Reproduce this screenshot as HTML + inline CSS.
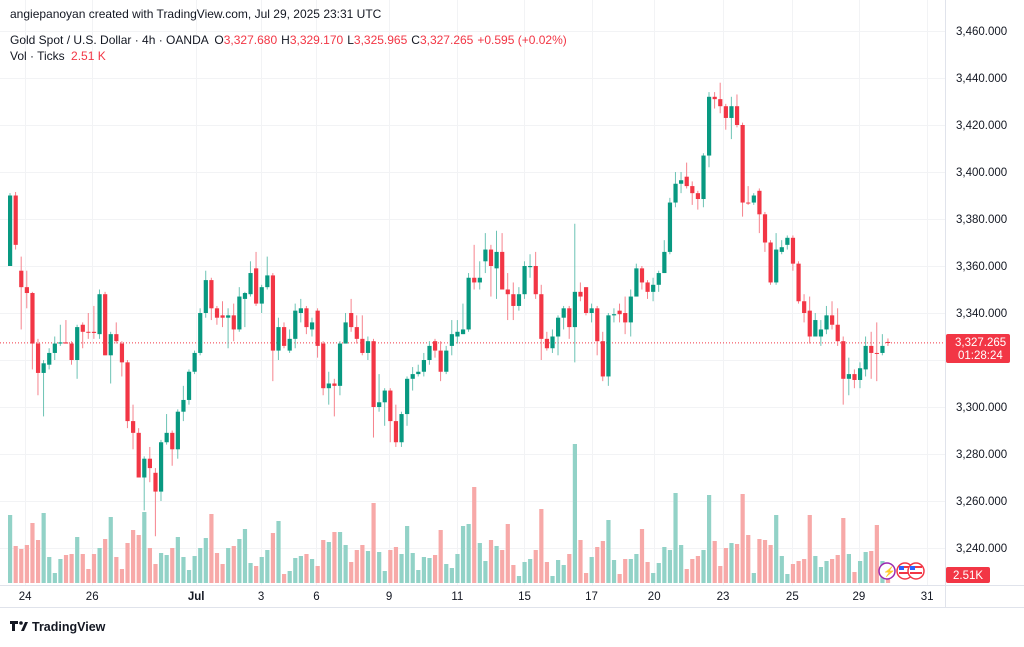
<!DOCTYPE html>
<html><head><meta charset="utf-8">
<style>
html,body{margin:0;padding:0;background:#fff;}
body{width:1024px;height:642px;overflow:hidden;font-family:"Liberation Sans",sans-serif;}
svg text{font-family:"Liberation Sans",sans-serif;}
</style></head>
<body>
<svg id="chart" width="1024" height="642" viewBox="0 0 1024 642" xmlns="http://www.w3.org/2000/svg">
  <rect x="0" y="0" width="1024" height="642" fill="#ffffff"/>
  <g id="grid"></g>
  <g id="vols"></g>
  <g id="candles"></g>
  <line x1="945.5" y1="0" x2="945.5" y2="608" stroke="#e0e3eb" stroke-width="1"/>
  <line x1="0" y1="585.5" x2="1024" y2="585.5" stroke="#e0e3eb" stroke-width="1"/>
  <line x1="0" y1="607.5" x2="1024" y2="607.5" stroke="#e0e3eb" stroke-width="1"/>
  <g id="yaxis"></g>
  <g id="xaxis"></g>
  <text x="10" y="18" font-size="12" fill="#131722">angiepanoyan created with TradingView.com, Jul 29, 2025 23:31 UTC</text>
  <text x="10" y="44" font-size="12" fill="#131722">Gold Spot / U.S. Dollar · 4h · OANDA <tspan dx="3">O</tspan><tspan fill="#f23645">3,327.680</tspan><tspan dx="4">H</tspan><tspan fill="#f23645">3,329.170</tspan><tspan dx="4">L</tspan><tspan fill="#f23645">3,325.965</tspan><tspan dx="4">C</tspan><tspan fill="#f23645">3,327.265</tspan><tspan dx="4" fill="#f23645">+0.595 (+0.02%)</tspan></text>
  <text x="10" y="60" font-size="12" fill="#131722">Vol · Ticks <tspan dx="3" fill="#f23645">2.51 K</tspan></text>
  <g>
    <rect x="946" y="334" width="64" height="29" rx="2" fill="#f23645"/>
    <text x="955" y="346" font-size="11.5" fill="#fff">3,327.265</text>
    <text x="958" y="359" font-size="11.5" fill="#fff">01:28:24</text>
  </g>
  <g>
    <rect x="946" y="567" width="44" height="16" rx="2" fill="#f23645"/>
    <text x="953" y="579" font-size="11.5" fill="#fff">2.51K</text>
  </g>
  <g>
    <circle cx="887" cy="571" r="8" fill="#fff" stroke="#9c27b0" stroke-width="1.5"/>
    <text x="883" y="575" font-size="10" fill="#9c27b0">⚡</text>
    <circle cx="905" cy="571" r="8" fill="#fff" stroke="#f23645" stroke-width="1.5"/>
    <rect x="899" y="566" width="12" height="2" fill="#f23645"/><rect x="899" y="572" width="12" height="2" fill="#f23645"/><rect x="899" y="566" width="5" height="4" fill="#2962ff"/>
    <circle cx="916" cy="571" r="8" fill="#fff" stroke="#f23645" stroke-width="1.5"/>
    <rect x="910" y="566" width="12" height="2" fill="#f23645"/><rect x="910" y="572" width="12" height="2" fill="#f23645"/><rect x="910" y="566" width="5" height="4" fill="#2962ff"/>
  </g>
  <g>
    <path d="M10 621 h8 v3 h-3 v7 h-3 v-7 h-2z" fill="#131722"/>
    <circle cx="21" cy="623" r="1.8" fill="#131722"/>
    <path d="M21 631 l4 -9 h3 l-4 9z" fill="#131722"/>
    <text x="32" y="631" font-size="12.5" font-weight="bold" fill="#131722">TradingView</text>
  </g>
</svg>
<script>
const opens=[3360,3390,3358,3351,3348.5,3327,3314.5,3318,3323,3327,3327.5,3327,3320,3335,3332,3332,3331,3348,3322,3331,3327,3319,3294,3289,3270,3278,3272,3264,3285,3289,3282,3298,3303,3315,3323,3340,3354,3342,3339,3338,3339,3333,3346,3348,3359,3344,3351,3356,3324,3334,3324,3329,3340,3342,3333,3341,3327,3308,3310,3309,3327,3340,3334,3329,3323,3328,3300,3302,3307,3294,3285,3297,3312,3314,3315,3320,3328,3324,3315,3326,3330,3331,3333,3355,3353,3362,3367,3359,3366,3350,3348,3343,3348,3359.5,3360,3348,3329,3325,3330,3338,3342,3334,3349,3351,3340,3342,3328,3313,3339,3341,3340,3336,3347,3359,3353,3349,3352,3357,3366,3387,3395,3398,3394,3391,3388.5,3407,3432,3431,3428,3423,3428,3420,3387,3387,3392,3382,3370,3353,3366,3369,3372,3361,3345,3341,3330,3330,3333,3339,3335,3328,3312,3314,3311.5,3316,3326,3323,3323,3327.68];
const highs=[3391,3391.5,3364,3358,3349,3329,3320,3325,3330,3335,3337,3328,3335,3336,3340,3343,3350,3349,3332,3336,3328,3320,3301,3291,3279,3283,3274,3286,3297,3290,3299,3309,3316,3324,3342,3358,3355,3343,3345,3342,3344,3351,3349,3362,3366,3352,3364,3357,3338,3336,3333,3344,3346,3343,3338,3342,3328,3315,3312,3328,3340,3346,3339,3339,3330,3329,3314,3308,3308,3301,3298,3313,3317,3318,3323,3328,3329,3328,3326,3337,3337,3344,3357,3369,3362,3374,3369,3375,3374,3357,3353,3351,3362,3365,3366,3352,3332,3333,3339,3343,3343,3378,3353,3351,3344,3343,3332,3340,3342,3344,3347,3350,3361,3360,3354,3355,3358,3371,3389,3400,3400,3404,3396,3392,3408,3434,3434,3438,3429,3432,3433,3421,3394,3391,3393,3383,3371,3374,3371,3373,3373,3362,3348,3347,3340,3337,3343,3345,3342,3330,3321,3316,3319,3330,3332,3336,3331,3329.17];
const lows=[3360,3367,3333,3342,3316,3305,3296,3316,3320,3326,3327,3318,3312,3325,3329,3329,3329,3322,3310,3327,3313,3291,3282,3270,3256,3268,3245,3260,3284,3275,3278,3294,3301,3314,3322,3338,3337,3335,3334,3325,3328,3332,3334,3347,3343,3340,3350,3311,3320,3325,3323,3325,3336,3331,3330,3321,3305,3301,3296,3305,3327,3332,3327,3322,3320,3287,3298,3292,3285,3283,3283,3292,3307,3313,3313,3318,3321,3311,3314,3322,3327,3331,3332,3350,3350,3357,3347,3346,3350,3337,3337,3341,3346,3355,3346,3320,3324,3323,3322,3333,3329,3319,3345,3339,3336,3322,3311,3309,3336,3336,3331,3330,3347,3350,3346,3345,3349,3357,3365,3385,3391,3393,3386,3384,3385,3402,3427,3425,3418,3414,3419,3381,3386,3386,3374,3366,3352,3352,3365,3367,3358,3344,3336,3327,3330,3326,3331,3333,3326,3301,3305,3308,3308,3313,3312,3311,3322,3325.965];
const closes=[3390,3369,3351,3348.5,3327,3314.5,3318.6,3323,3327,3327.5,3327,3320,3334,3332,3331.8,3331.5,3348,3322,3331,3328,3319,3294,3289,3270,3278,3274,3264,3285,3289,3282,3298,3303,3315,3323,3340,3354,3342,3338,3338,3339,3333,3347,3348.5,3357,3344,3351,3356,3324,3334,3326,3329,3341,3342,3334,3336,3326,3308,3310,3309,3327,3336,3334,3329,3323,3328,3300,3302,3307,3294,3285,3297,3312,3314,3315,3320,3326,3324,3315,3324,3331,3332,3333,3355,3353,3355,3367,3360,3366,3350,3348,3343,3348,3360,3360,3348,3329,3325,3330,3338,3342,3334,3349,3347,3340,3342,3328,3313,3339,3339.5,3339.5,3336,3347,3359,3353,3349,3352,3357,3366,3387,3395,3396.5,3394,3391,3388.5,3407,3432,3431,3428,3423,3428,3420,3387,3386.6,3390,3382,3370,3353,3367,3368,3372,3361,3345,3340,3330,3337,3333,3339,3335,3328,3312,3314,3311.5,3316.5,3326,3323,3322.8,3326,3327.265];
const volumes=[68,37,34,38,60,43,70,26,10,24,28,29,46,29,14,29,35,44,66,26,14,40,53,48,71,35,19,30,28,35,46,26,13,27,35,45,69,30,19,35,37,44,54,20,17,26,33,50,62,9,12,25,27,29,24,17,43,41,51,51,38,21,33,38,32,80,31,12,33,36,29,57,30,13,26,25,28,53,19,15,29,57,59,96,40,22,43,37,33,59,18,7,21,24,33,74,21,7,23,18,29,139,43,10,26,36,42,63,23,9,24,24,29,54,21,10,20,36,33,90,38,14,24,27,33,88,42,17,35,40,39,89,48,10,44,43,38,68,27,9,19,22,24,68,27,16,22,24,28,65,29,11,22,31,32,58,22,5];
const priceTicks=[3460,3440,3420,3400,3380,3360,3340,3320,3300,3280,3260,3240];
const timeLabels=["24","26","Jul","3","6","9","11","15","17","20","23","25","29","31"];
const timeLabelCandle=[2.7,14.7,33.3,44.9,54.8,67.8,80,92,104,115.2,127.5,139.9,151.8,164];
const lastPrice=3327.265;

const NS="http://www.w3.org/2000/svg";
const yOf=p=>31+(3460-p)*2.35;
const xOf=i=>10+i*5.592;
const volBase=583;
const volH=v=>v*1.0;
function mk(tag,attrs,parent){const e=document.createElementNS(NS,tag);for(const k in attrs)e.setAttribute(k,attrs[k]);parent.appendChild(e);return e;}

const grid=document.getElementById('grid');
priceTicks.forEach(p=>{
  const l=mk('line',{x1:0,x2:945,y1:yOf(p)+0.5,y2:yOf(p)+0.5,stroke:'#f2f3f5','stroke-width':1},grid);
  
  
});
timeLabelCandle.forEach(c=>{
  const x=Math.round(xOf(c))+0.5;
  const l=mk('line',{x1:x,x2:x,y1:0,y2:585,stroke:'#f2f3f5','stroke-width':1},grid);
  
  
});

const vg=document.getElementById('vols');
volumes.forEach((v,i)=>{
  const up=closes[i]>=opens[i];
  const h=volH(v);
  const r=mk('rect',{x:xOf(i)-2,y:volBase-h,width:4.2,height:h,fill:up?'#92d2c7':'#f7a9a8'},vg);
  
  
});

const pl=mk('line',{x1:0,x2:945,y1:yOf(lastPrice),y2:yOf(lastPrice),stroke:'#f23645','stroke-width':1,'stroke-dasharray':'1,2'},grid);



const cg=document.getElementById('candles');
opens.forEach((o,i)=>{
  const c=closes[i],up=c>=o,col=up?'#089981':'#f23645';
  const g=mk('g',{},cg);
  
  
  const x=xOf(i);
  mk('line',{x1:x,x2:x,y1:yOf(highs[i]),y2:yOf(lows[i]),stroke:up?'#6cc3b4':'#f6838d','stroke-width':1},g);
  const top=yOf(Math.max(o,c)),bot=yOf(Math.min(o,c));
  mk('rect',{x:x-2,y:top,width:4.2,height:Math.max(1,bot-top),fill:col},g);
});

const ya=document.getElementById('yaxis');
priceTicks.forEach(p=>{
  if(Math.abs(yOf(p)-yOf(lastPrice))<22) return;
  const t=mk('text',{x:956,y:yOf(p)+4,'font-size':11.5,fill:'#131722'},ya);
  t.textContent=p.toLocaleString('en-US',{minimumFractionDigits:3});
  
  
});
const xa=document.getElementById('xaxis');
timeLabels.forEach((s,k)=>{
  const t=mk('text',{x:xOf(timeLabelCandle[k]),y:600,'font-size':11.5,fill:'#131722','text-anchor':'middle','font-weight':s==='Jul'?'bold':'normal'},xa);
  t.textContent=s;
  
  
});
</script>
</body></html>
